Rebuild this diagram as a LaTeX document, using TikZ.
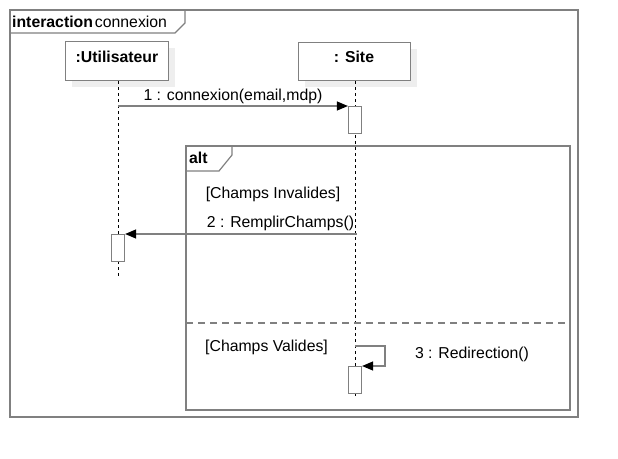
\documentclass[tikz,border=0pt]{standalone}
\usepackage{fontspec}
\setmainfont{Liberation Sans}
\usetikzlibrary{arrows.meta, positioning}
\definecolor{traitgris}{RGB}{128,128,128}
\definecolor{ombre}{RGB}{238,238,238}

\begin{document}
\begin{tikzpicture}[
    x=1pt, y=-1pt,
    every node/.style={font=\fontsize{15.8}{18}\selectfont, inner sep=0pt},
    cadre/.style={
        draw=traitgris,
        line width=1.2pt
    },
    objet/.style={
        draw=traitgris,
        line width=1.2pt,
        fill=white,
        minimum width=103pt,
        minimum height=39pt,
        anchor=north west
    },
    activation/.style={
        draw=traitgris,
        line width=1.2pt,
        fill=white,
        minimum width=13pt,
        minimum height=27pt,
        anchor=north
    },
    ligne/.style={
        dashed,
        thin,
        black
    },
    message/.style={
        draw=traitgris,
        line width=1.2pt,
        -{Triangle[color=black, length=11pt, width=9pt]}
    }
]

\useasboundingbox (0,0) rectangle (618,458);

% ============================================================
% CADRE INTERACTION
% ============================================================

\draw[cadre] (10,10) rectangle (578,417);
\draw[cadre] (10,33) -- (175,33) -- (185,23) -- (185,10);

\node[anchor=west] (titre) at (12,22)
{\textbf{interaction}\hspace{2pt}connexion};

% ============================================================
% OBJETS
% ============================================================

% Ombres
\fill[ombre] (72,48) rectangle (175,87);
\fill[ombre] (305,49) rectangle (417,87);

\node[objet] (uti) at (65,41) {};
\node[font=\fontsize{15.8}{18}\selectfont\bfseries] at (117,57) {:Utilisateur};

\node[objet, minimum width=112pt, minimum height=38pt] (site) at (298,42) {};
\node[font=\fontsize{15.8}{18}\selectfont\bfseries] at (354,57) {: Site};

% Lignes de vie
\coordinate (finUti) at (118,276);
\coordinate (finSite) at (355,396);

\draw[ligne] (uti.south -| finUti) -- (finUti);
\draw[ligne] (site.south -| finSite) -- (finSite);

% ============================================================
% MESSAGE 1
% ============================================================

\node[activation] (act1) at (355,106) {};

\draw[message]
    (finUti |- act1.north) --
    node[above=2pt]{1 : connexion(email,mdp)}
    (act1.north west);

% ============================================================
% ALT
% ============================================================

\draw[cadre] (186,146) rectangle (570,410);
\draw[cadre] (186,171) -- (219,171) -- (232,155) -- (232,146);

\node[anchor=west, font=\fontsize{15.8}{18}\selectfont\bfseries] (alt) at (189,158) {alt};

\node (garde1) at (273,194) {[Champs Invalides]};

% Message 2
\node[activation] (act2) at (118,234) {};

\draw[message]
    (357,234) --
    node[pos=0.33, above=3pt]{2 : RemplirChamps()}
    (act2.north east);

% Separateur
\draw[draw=traitgris, line width=1.2pt, dash pattern=on 7pt off 5pt]
    (186,323) -- (570,323);

\node[anchor=west] (garde2) at (205,347) {[Champs Valides]};

% Message 3 (reflexif)
\node[activation] (act3) at (355,366) {};

\draw[message]
    (355,346) -- (385,346) -- (385,366) -- (act3.north east);

\node (redir) at (472,354) {3 : Redirection()};

\end{tikzpicture}
\end{document}
